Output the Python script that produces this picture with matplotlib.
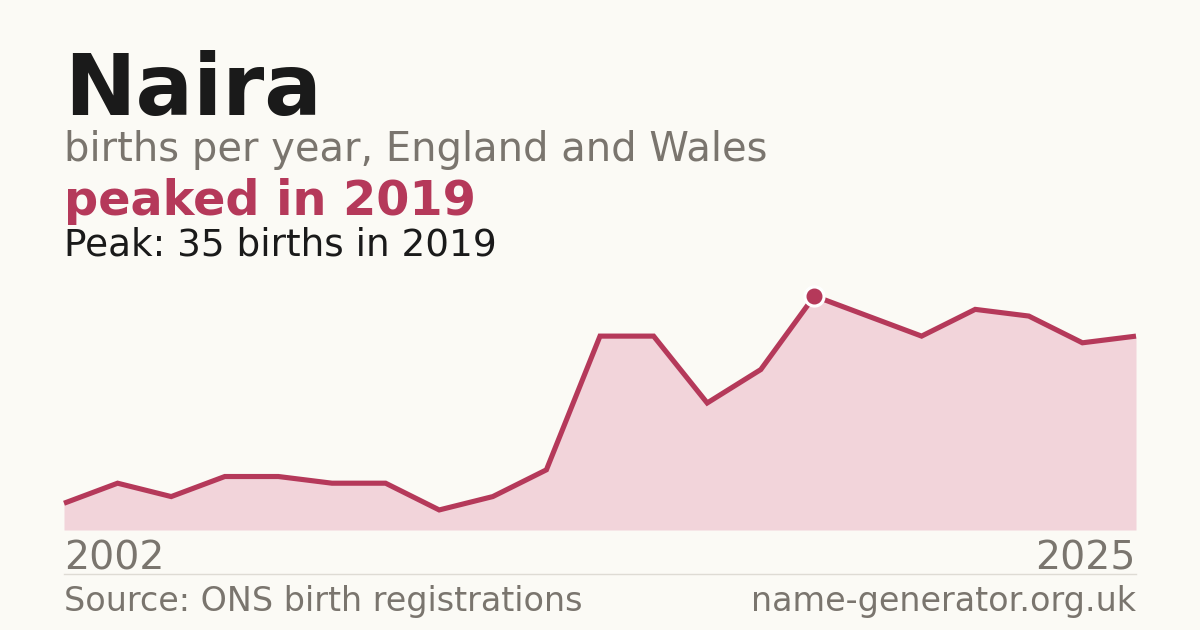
import matplotlib
matplotlib.use("Agg")
from matplotlib import pyplot as plt

plt.rcParams['font.family'] = ['DejaVu Sans']

# births per year; a few years are missing from the series
years = [2002, 2003, 2004, 2005, 2006, 2007, 2008, 2010, 2011, 2012,
         2014, 2015, 2016, 2018, 2019, 2020, 2021, 2022, 2023, 2024, 2025]
births = [4, 7, 5, 8, 8, 7, 7, 3, 5, 9, 29, 29, 19, 24, 35, 32, 29, 33, 32, 28, 29]

peak_year = 2019
peak_value = 35

BG = "#fbfaf5"
RED = "#b5395a"
FILL = "#f2d4da"
GREY = "#7a756e"
INK = "#1a1a1a"

W, H = 1200, 630
fig = plt.figure(figsize=(W / 100, H / 100), dpi=100, facecolor=BG)


def px(x, y):
    return x / W, 1 - y / H


# plot area: x 64..1136, y 296 (peak) .. 530 (zero)
l, b = px(64, 530)
r, t = px(1136, 296)
ax = fig.add_axes([l, b, r - l, t - b])
ax.set_facecolor(BG)
xs = list(range(len(years)))
ax.fill_between(xs, births, 0, color=FILL, lw=0)
ax.plot(xs, births, color=RED, lw=3.7, solid_joinstyle="miter", solid_capstyle="butt", clip_on=False)
pi = years.index(peak_year)
ax.plot(xs[pi], births[pi], "o", ms=15, mfc="white", mec="white", clip_on=False, zorder=5)
ax.plot(xs[pi], births[pi], "o", ms=10.5, mfc=RED, mec=RED, clip_on=False, zorder=6)
ax.set_xlim(0, len(years) - 1)
ax.set_ylim(0, peak_value)
ax.axis("off")

fig.text(*px(64, 115), "Naira", fontsize=61.5, fontweight="bold", color=INK, va="baseline")
fig.text(*px(64, 161), "births per year, England and Wales", fontsize=28.8, color=GREY, va="baseline")
fig.text(*px(64, 215), "peaked in %d" % peak_year, fontsize=34.4, fontweight="bold", color=RED, va="baseline")
fig.text(*px(64, 255), "Peak: %d births in %d" % (peak_value, peak_year), fontsize=26.9, color=INK, va="baseline")

fig.text(*px(64, 570), str(years[0]), fontsize=28.4, color=GREY, va="baseline")
fig.text(*px(1136, 570), str(years[-1]), fontsize=28.4, color=GREY, va="baseline", ha="right")
fig.add_artist(plt.Line2D([64 / W, 1136 / W], [1 - 574 / H] * 2, color="#dedbd4", lw=1))
fig.text(*px(64, 611), "Source: ONS birth registrations", fontsize=24, color=GREY, va="baseline")
fig.text(*px(1136, 611), "name-generator.org.uk", fontsize=24, color=GREY, va="baseline", ha="right")

fig.savefig("out.png", dpi=100, facecolor=BG)
